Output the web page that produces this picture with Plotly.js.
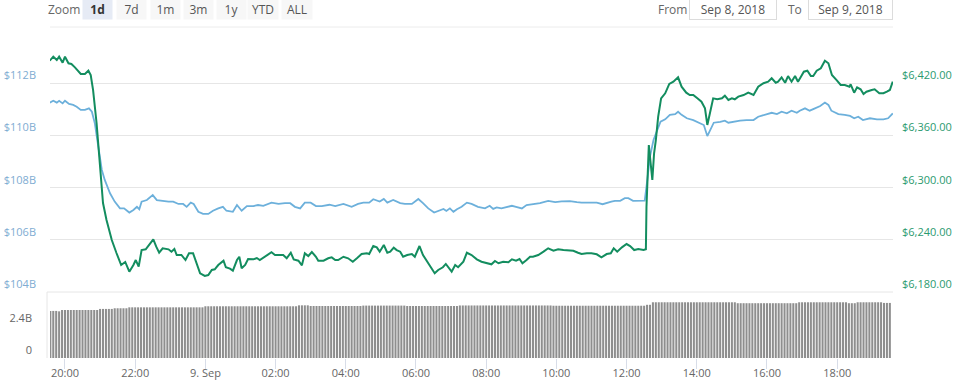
<!DOCTYPE html>
<html>
<head>
<meta charset="utf-8">
<script src="https://cdn.plot.ly/plotly-3.0.1.min.js"></script>
<style>
html,body{margin:0;padding:0;background:#fff;}
#chart{width:965px;height:386px;}
</style>
</head>
<body>
<div id="chart"></div>
<script>
// ---------- DATA ----------
const priceTime = [
'2018-09-08 19:34','2018-09-08 19:40','2018-09-08 19:46','2018-09-08 19:50','2018-09-08 19:56','2018-09-08 20:00','2018-09-08 20:06','2018-09-08 20:11','2018-09-08 20:17','2018-09-08 20:23',
'2018-09-08 20:27','2018-09-08 20:34','2018-09-08 20:40','2018-09-08 20:44','2018-09-08 20:48','2018-09-08 20:54','2018-09-08 21:00','2018-09-08 21:05','2018-09-08 21:11','2018-09-08 21:20',
'2018-09-08 21:28','2018-09-08 21:36','2018-09-08 21:43','2018-09-08 21:50','2018-09-08 21:57','2018-09-08 22:01','2018-09-08 22:06','2018-09-08 22:11','2018-09-08 22:18','2018-09-08 22:24',
'2018-09-08 22:31','2018-09-08 22:36','2018-09-08 22:41','2018-09-08 22:47','2018-09-08 22:57','2018-09-08 23:02','2018-09-08 23:07','2018-09-08 23:11','2018-09-08 23:19','2018-09-08 23:26',
'2018-09-08 23:32','2018-09-08 23:39','2018-09-08 23:45','2018-09-08 23:51','2018-09-08 23:59',
'2018-09-09 00:05','2018-09-09 00:11','2018-09-09 00:16','2018-09-09 00:22','2018-09-09 00:31','2018-09-09 00:35','2018-09-09 00:42','2018-09-09 00:47','2018-09-09 00:54','2018-09-09 00:58',
'2018-09-09 01:02','2018-09-09 01:08','2018-09-09 01:13','2018-09-09 01:22','2018-09-09 01:28','2018-09-09 01:33','2018-09-09 01:40','2018-09-09 01:45','2018-09-09 01:53','2018-09-09 01:59',
'2018-09-09 02:06','2018-09-09 02:13','2018-09-09 02:19','2018-09-09 02:26','2018-09-09 02:31','2018-09-09 02:39','2018-09-09 02:45','2018-09-09 02:50','2018-09-09 02:56','2018-09-09 03:02',
'2018-09-09 03:09','2018-09-09 03:13','2018-09-09 03:22','2018-09-09 03:30','2018-09-09 03:36','2018-09-09 03:42','2018-09-09 03:47','2018-09-09 03:56','2018-09-09 04:04','2018-09-09 04:12',
'2018-09-09 04:19','2018-09-09 04:27','2018-09-09 04:36','2018-09-09 04:40','2018-09-09 04:47','2018-09-09 04:53','2018-09-09 04:58','2018-09-09 05:05','2018-09-09 05:11','2018-09-09 05:16',
'2018-09-09 05:22','2018-09-09 05:27','2018-09-09 05:33','2018-09-09 05:38','2018-09-09 05:45','2018-09-09 05:53','2018-09-09 05:58','2018-09-09 06:06','2018-09-09 06:12','2018-09-09 06:21',
'2018-09-09 06:27','2018-09-09 06:32','2018-09-09 06:38','2018-09-09 06:46','2018-09-09 06:51','2018-09-09 06:57','2018-09-09 07:01','2018-09-09 07:07','2018-09-09 07:12','2018-09-09 07:21',
'2018-09-09 07:27','2018-09-09 07:35','2018-09-09 07:44','2018-09-09 07:52','2018-09-09 08:00','2018-09-09 08:09','2018-09-09 08:15','2018-09-09 08:21','2018-09-09 08:29','2018-09-09 08:38',
'2018-09-09 08:44','2018-09-09 08:51','2018-09-09 08:57','2018-09-09 09:02','2018-09-09 09:09','2018-09-09 09:15','2018-09-09 09:20','2018-09-09 09:29','2018-09-09 09:38','2018-09-09 09:46',
'2018-09-09 09:55','2018-09-09 10:03','2018-09-09 10:12','2018-09-09 10:20','2018-09-09 10:29','2018-09-09 10:37','2018-09-09 10:43','2018-09-09 10:52','2018-09-09 11:00','2018-09-09 11:09',
'2018-09-09 11:17','2018-09-09 11:26','2018-09-09 11:33','2018-09-09 11:38','2018-09-09 11:44','2018-09-09 11:52','2018-09-09 12:00','2018-09-09 12:06','2018-09-09 12:13','2018-09-09 12:20',
'2018-09-09 12:29','2018-09-09 12:33','2018-09-09 12:34','2018-09-09 12:38','2018-09-09 12:41','2018-09-09 12:44','2018-09-09 12:47','2018-09-09 12:50','2018-09-09 12:54','2018-09-09 12:59',
'2018-09-09 13:06','2018-09-09 13:13','2018-09-09 13:20','2018-09-09 13:28','2018-09-09 13:34','2018-09-09 13:42','2018-09-09 13:48','2018-09-09 13:54','2018-09-09 14:01','2018-09-09 14:08',
'2018-09-09 14:14','2018-09-09 14:18','2018-09-09 14:23','2018-09-09 14:28','2018-09-09 14:35','2018-09-09 14:43','2018-09-09 14:48','2018-09-09 14:54','2018-09-09 15:00','2018-09-09 15:05',
'2018-09-09 15:11','2018-09-09 15:20','2018-09-09 15:28','2018-09-09 15:37','2018-09-09 15:45','2018-09-09 15:54','2018-09-09 16:02','2018-09-09 16:08','2018-09-09 16:15','2018-09-09 16:19',
'2018-09-09 16:25','2018-09-09 16:31','2018-09-09 16:36','2018-09-09 16:42','2018-09-09 16:48','2018-09-09 16:53','2018-09-09 16:58','2018-09-09 17:03','2018-09-09 17:09','2018-09-09 17:15',
'2018-09-09 17:19','2018-09-09 17:25','2018-09-09 17:32','2018-09-09 17:39','2018-09-09 17:45','2018-09-09 17:51','2018-09-09 17:59','2018-09-09 18:06','2018-09-09 18:13','2018-09-09 18:21',
'2018-09-09 18:23','2018-09-09 18:29','2018-09-09 18:34','2018-09-09 18:40','2018-09-09 18:45','2018-09-09 18:50','2018-09-09 18:59','2018-09-09 19:04','2018-09-09 19:12','2018-09-09 19:19',
'2018-09-09 19:25','2018-09-09 19:30','2018-09-09 19:35'
];
const priceUSD = [
6445.6,6450.2,6446.4,6450.2,6443.3,6450.2,6442.6,6441.8,6438.0,6434.1,
6430.3,6430.3,6434.1,6429.2,6412.0,6374.1,6323.5,6282.2,6262.7,6239.7,
6224.8,6211.0,6214.5,6203.3,6211.0,6216.7,6209.1,6228.2,6229.0,6234.0,
6240.5,6232.0,6225.1,6230.2,6229.0,6226.3,6229.4,6222.5,6222.5,6216.7,
6224.4,6224.4,6213.0,6201.5,6198.4,
6199.5,6205.3,6206.1,6211.0,6215.9,6208.4,6206.8,6204.5,6216.7,6220.5,
6207.2,6211.0,6217.9,6217.5,6219.0,6216.7,6219.8,6222.5,6225.6,6222.5,
6222.5,6222.5,6218.7,6225.1,6217.5,6215.9,6210.7,6224.4,6221.3,6225.9,
6220.5,6215.9,6215.9,6218.7,6219.8,6216.7,6216.7,6220.5,6218.7,6214.8,
6218.7,6223.6,6224.4,6223.6,6232.8,6231.3,6226.3,6234.0,6225.1,6226.3,
6230.9,6228.2,6226.3,6220.5,6222.5,6223.6,6220.5,6232.8,6222.5,6213.0,
6206.1,6201.5,6205.3,6208.4,6212.2,6206.1,6203.3,6211.0,6208.4,6214.8,
6225.1,6222.5,6217.5,6214.8,6213.3,6211.8,6215.6,6213.0,6214.8,6214.1,
6217.5,6215.9,6217.9,6213.0,6216.7,6220.5,6220.5,6222.5,6226.3,6230.2,
6227.4,6229.0,6228.2,6228.2,6227.4,6225.1,6223.6,6224.4,6224.4,6223.3,
6219.8,6223.6,6224.4,6230.2,6226.3,6231.3,6235.1,6232.8,6228.2,6229.4,
6228.2,6229.0,6278.0,6348.8,6331.6,6308.6,6339.3,6354.5,6381.3,6402.4,
6408.2,6418.9,6421.5,6426.5,6415.8,6408.9,6406.2,6406.2,6402.4,6398.5,
6390.9,6371.8,6387.0,6402.4,6401.3,6402.4,6405.4,6400.5,6402.4,6401.3,
6404.3,6406.2,6408.9,6406.2,6415.8,6419.7,6421.5,6425.4,6420.3,6421.5,
6426.5,6420.3,6428.0,6421.5,6428.0,6421.5,6427.2,6433.0,6434.1,6428.0,
6428.0,6434.1,6436.9,6445.6,6442.6,6429.2,6423.4,6417.7,6417.7,6415.8,
6418.5,6408.9,6415.1,6412.8,6407.4,6410.0,6412.0,6412.8,6408.2,6408.2,
6410.0,6412.0,6421.5
];

const capTime = [
'2018-09-08 19:34','2018-09-08 19:40','2018-09-08 19:46','2018-09-08 19:50','2018-09-08 19:56','2018-09-08 20:00','2018-09-08 20:07','2018-09-08 20:14','2018-09-08 20:20','2018-09-08 20:27',
'2018-09-08 20:34','2018-09-08 20:41','2018-09-08 20:46','2018-09-08 20:51','2018-09-08 20:57','2018-09-08 21:03','2018-09-08 21:08','2018-09-08 21:17','2018-09-08 21:25','2018-09-08 21:34',
'2018-09-08 21:41','2018-09-08 21:50','2018-09-08 21:57','2018-09-08 22:03','2018-09-08 22:07','2018-09-08 22:11','2018-09-08 22:20','2018-09-08 22:30','2018-09-08 22:37','2018-09-08 22:45',
'2018-09-08 22:57','2018-09-08 23:05','2018-09-08 23:14','2018-09-08 23:22','2018-09-08 23:28','2018-09-08 23:35','2018-09-08 23:40','2018-09-08 23:48','2018-09-08 23:56',
'2018-09-09 00:05','2018-09-09 00:13','2018-09-09 00:22','2018-09-09 00:30','2018-09-09 00:36','2018-09-09 00:47','2018-09-09 00:54','2018-09-09 01:02','2018-09-09 01:11','2018-09-09 01:22',
'2018-09-09 01:30','2018-09-09 01:39','2018-09-09 01:53','2018-09-09 02:05','2018-09-09 02:16','2018-09-09 02:25','2018-09-09 02:33','2018-09-09 02:42','2018-09-09 02:50','2018-09-09 03:00',
'2018-09-09 03:09','2018-09-09 03:19','2018-09-09 03:32','2018-09-09 03:42','2018-09-09 03:56','2018-09-09 04:10','2018-09-09 04:21','2018-09-09 04:30','2018-09-09 04:40','2018-09-09 04:47',
'2018-09-09 04:58','2018-09-09 05:05','2018-09-09 05:11','2018-09-09 05:21','2018-09-09 05:33','2018-09-09 05:41','2018-09-09 05:53','2018-09-09 06:04','2018-09-09 06:12','2018-09-09 06:21',
'2018-09-09 06:31','2018-09-09 06:38','2018-09-09 06:47','2018-09-09 06:52','2018-09-09 06:58','2018-09-09 07:04','2018-09-09 07:10','2018-09-09 07:18','2018-09-09 07:27','2018-09-09 07:35',
'2018-09-09 07:46','2018-09-09 07:58','2018-09-09 08:06','2018-09-09 08:12','2018-09-09 08:18','2018-09-09 08:26','2018-09-09 08:35','2018-09-09 08:44','2018-09-09 08:51','2018-09-09 09:01',
'2018-09-09 09:09','2018-09-09 09:20','2018-09-09 09:32','2018-09-09 09:46','2018-09-09 09:58','2018-09-09 10:09','2018-09-09 10:23','2018-09-09 10:35','2018-09-09 10:43','2018-09-09 10:57',
'2018-09-09 11:09','2018-09-09 11:19','2018-09-09 11:26','2018-09-09 11:34','2018-09-09 11:40','2018-09-09 11:49','2018-09-09 11:57','2018-09-09 12:03','2018-09-09 12:11','2018-09-09 12:20',
'2018-09-09 12:31','2018-09-09 12:34','2018-09-09 12:40','2018-09-09 12:46','2018-09-09 12:51','2018-09-09 12:58','2018-09-09 13:06','2018-09-09 13:14','2018-09-09 13:23','2018-09-09 13:28',
'2018-09-09 13:34','2018-09-09 13:43','2018-09-09 13:54','2018-09-09 14:05','2018-09-09 14:12','2018-09-09 14:18','2018-09-09 14:23','2018-09-09 14:29','2018-09-09 14:40','2018-09-09 14:48',
'2018-09-09 14:54','2018-09-09 15:02','2018-09-09 15:14','2018-09-09 15:25','2018-09-09 15:37','2018-09-09 15:45','2018-09-09 15:57','2018-09-09 16:08','2018-09-09 16:17','2018-09-09 16:25',
'2018-09-09 16:34','2018-09-09 16:42','2018-09-09 16:51','2018-09-09 16:56','2018-09-09 17:05','2018-09-09 17:13','2018-09-09 17:22','2018-09-09 17:31','2018-09-09 17:39','2018-09-09 17:45',
'2018-09-09 17:50','2018-09-09 18:02','2018-09-09 18:13','2018-09-09 18:22','2018-09-09 18:29','2018-09-09 18:36','2018-09-09 18:44','2018-09-09 18:56','2018-09-09 19:08','2018-09-09 19:19',
'2018-09-09 19:27','2018-09-09 19:35'
];
const marketCapB = [
111.25,111.32,111.25,111.32,111.22,111.32,111.20,111.16,111.09,110.97,
110.97,111.03,110.90,110.46,109.56,108.67,108.29,107.78,107.46,107.20,
107.20,107.04,107.14,107.26,107.17,107.46,107.52,107.71,107.52,107.49,
107.46,107.46,107.37,107.37,107.26,107.42,107.37,107.07,106.99,
106.99,107.11,107.20,107.26,107.11,107.07,107.33,107.11,107.29,107.29,
107.33,107.30,107.42,107.37,107.40,107.40,107.26,107.20,107.42,107.42,
107.29,107.29,107.34,107.29,107.37,107.26,107.37,107.42,107.42,107.55,
107.46,107.56,107.42,107.52,107.40,107.37,107.37,107.56,107.40,107.20,
107.04,107.11,107.18,107.10,107.20,107.07,107.17,107.26,107.42,107.37,
107.26,107.20,107.30,107.18,107.24,107.20,107.24,107.30,107.26,107.20,
107.33,107.36,107.40,107.49,107.44,107.47,107.48,107.44,107.42,107.42,
107.42,107.36,107.42,107.46,107.49,107.49,107.59,107.59,107.49,107.49,
107.50,108.03,109.18,109.82,110.14,110.52,110.61,110.78,110.81,110.90,
110.78,110.65,110.58,110.48,110.39,109.97,110.23,110.48,110.51,110.56,
110.48,110.52,110.56,110.58,110.58,110.71,110.78,110.86,110.81,110.90,
110.84,110.94,110.86,110.94,111.03,110.94,111.03,111.12,111.25,111.16,
110.94,110.81,110.78,110.74,110.65,110.71,110.58,110.65,110.61,110.61,
110.65,110.84
];

// 24h volume (billions USD), one bar every 5 minutes starting 2018-09-08 19:35
const volumeStart = '2018-09-08 19:35';
const volumeB = [
3.53,3.53,3.53,3.50,3.60,3.60,3.60,3.60,3.60,3.60,3.60,3.60,3.60,3.60,3.60,3.60,3.60,
3.68,3.68,3.68,3.68,3.68,3.73,3.73,3.73,3.73,3.73,
3.80,3.80,3.80,3.80,3.80,3.80,3.80,3.80,3.80,3.80,3.80,3.80,3.80,
3.80,3.80,3.80,3.80,3.80,3.80,3.80,3.80,3.80,3.80,3.80,3.80,3.80,
3.88,3.88,3.88,3.88,3.88,3.88,3.88,3.88,3.88,3.88,3.88,3.88,3.88,3.88,3.88,3.88,
3.88,3.88,3.88,3.88,3.88,3.88,3.88,3.88,3.88,3.88,3.88,3.88,3.88,3.88,3.88,3.88,
3.95,3.95,3.95,3.95,
3.90,3.90,3.90,3.90,3.90,3.90,3.90,3.90,3.90,3.90,3.90,3.90,3.90,3.90,3.90,3.90,3.90,3.90,
3.93,3.93,3.93,3.93,3.93,3.93,3.93,3.93,3.93,3.93,3.93,3.93,3.93,3.93,3.93,
3.90,3.90,3.90,3.90,3.90,3.90,3.90,3.90,3.90,3.90,3.90,3.90,3.90,3.90,3.90,3.90,3.90,3.90,
3.94,3.94,3.94,3.94,3.94,3.94,3.94,3.94,3.94,3.94,3.94,3.94,3.94,3.94,3.94,3.94,
3.94,3.94,3.94,3.94,3.94,3.94,3.94,3.94,3.94,3.94,3.94,3.94,3.94,3.94,3.94,3.94,
3.92,3.92,3.92,3.92,3.92,3.92,3.92,3.92,3.92,3.92,3.92,3.92,3.92,3.92,3.92,3.92,
3.92,3.92,3.92,3.92,3.92,3.92,3.92,3.92,3.92,3.92,3.92,3.92,3.92,3.92,3.92,3.92,
3.99,3.99,
4.18,4.18,4.18,4.18,4.18,4.18,4.18,4.18,4.18,4.18,4.18,4.18,4.18,4.18,4.18,
4.18,4.18,4.18,4.18,4.18,4.18,4.18,4.18,4.18,4.18,4.18,4.18,4.18,4.18,
4.11,4.11,4.11,4.11,4.11,4.11,4.11,4.11,4.11,4.11,4.11,4.11,4.11,4.11,4.11,4.11,4.11,4.11,4.11,4.11,4.11,
4.18,4.18,4.18,4.18,4.18,4.18,4.18,4.18,4.18,4.18,4.18,4.18,4.18,4.18,4.18,4.18,4.18,
4.11,4.11,4.11,
4.18,4.18,4.18,4.18,4.18,4.18,4.18,4.18,4.18,
4.13,4.13,4.13
];

const xTickVals = ['2018-09-08 20:00','2018-09-08 22:00','2018-09-09 00:00','2018-09-09 02:00','2018-09-09 04:00','2018-09-09 06:00',
  '2018-09-09 08:00','2018-09-09 10:00','2018-09-09 12:00','2018-09-09 14:00','2018-09-09 16:00','2018-09-09 18:00'];
const xTickText = ['20:00','22:00','9. Sep','02:00','04:00','06:00','08:00','10:00','12:00','14:00','16:00','18:00'];
const capTickVals = [104,106,108,110,112];
const capTickText = ['$104B','$106B','$108B','$110B','$112B'];
const priceTickVals = [6180,6240,6300,6360,6420];
const volTickVals = [0,2.4];
const volTickText = ['0','2.4B'];
const zoomButtons = ['1d','7d','1m','3m','1y','YTD','ALL'];
const fromDate = 'Sep 8, 2018';
const toDate = 'Sep 9, 2018';

// ---------- LAYOUT HELPERS (pixel -> paper, decoration only) ----------
const W = 965, H = 386, ML = 50, MR = 72, MT = 27, MB = 28;
const PW = W - ML - MR, PH = H - MT - MB;
const px = x => (x - ML) / PW;
const py = y => (H - MB - y) / PH;

const FONT = '"Open Sans", "DejaVu Sans", sans-serif';
const GREEN = '#138d5f';
const BLUE = '#6cb0db';

const traces = [
  { type:'bar', x0: volumeStart, dx: 300000, y: volumeB, xaxis:'x', yaxis:'y3',
    marker:{color:'#8e8e8e', line:{width:0}}, hoverinfo:'skip', showlegend:false },
  { type:'scatter', mode:'lines', x: capTime, y: marketCapB, xaxis:'x', yaxis:'y',
    line:{color: BLUE, width:1.8}, showlegend:false },
  { type:'scatter', mode:'lines', x: priceTime, y: priceUSD, xaxis:'x', yaxis:'y2',
    line:{color: GREEN, width:2}, showlegend:false }
];

const annotations = [];
annotations.push({xref:'paper', yref:'paper', x: px(64), y: py(9.5), text:'Zoom', showarrow:false,
  font:{family:FONT, size:12, color:'#666'}, xanchor:'center', yanchor:'middle'});
const btnCenters = [97.5, 131, 165, 198, 231, 263, 297];
zoomButtons.forEach((b, i) => {
  const active = i === 0;
  annotations.push({xref:'paper', yref:'paper', x: px(btnCenters[i]), y: py(9.5),
    text: active ? '<b>' + b + '</b>' : b, showarrow:false,
    font:{family:FONT, size:12, color: active ? '#333' : '#555'},
    bgcolor: active ? '#e6ebf5' : '#f7f7f7', width: b === 'YTD' || b === 'ALL' ? 26 : 25, height: 15,
    borderpad: 2, xanchor:'center', yanchor:'middle'});
});
annotations.push({xref:'paper', yref:'paper', x: px(672.5), y: py(9.5), text:'From', showarrow:false,
  font:{family:FONT, size:12, color:'#666'}, xanchor:'center', yanchor:'middle'});
annotations.push({xref:'paper', yref:'paper', x: px(733), y: py(9.5), text: fromDate, showarrow:false,
  font:{family:FONT, size:12, color:'#555'}, bgcolor:'#fff', bordercolor:'#dcdcdc', borderwidth:1,
  width: 82, height: 15, borderpad: 2, xanchor:'center', yanchor:'middle'});
annotations.push({xref:'paper', yref:'paper', x: px(795), y: py(9.5), text:'To', showarrow:false,
  font:{family:FONT, size:12, color:'#666'}, xanchor:'center', yanchor:'middle'});
annotations.push({xref:'paper', yref:'paper', x: px(850.5), y: py(9.5), text: toDate, showarrow:false,
  font:{family:FONT, size:12, color:'#555'}, bgcolor:'#fff', bordercolor:'#dcdcdc', borderwidth:1,
  width: 79, height: 15, borderpad: 2, xanchor:'center', yanchor:'middle'});

const shapes = [
  {type:'line', xref:'paper', yref:'paper', x0: px(50), x1: px(893), y0: py(27), y1: py(27), line:{color:'#ececec', width:1}},
  {type:'line', xref:'paper', yref:'paper', x0: px(47), x1: px(893), y0: py(292), y1: py(292), line:{color:'#e6e6e6', width:1}},
  {type:'line', xref:'paper', yref:'paper', x0: px(47), x1: px(47), y0: py(292), y1: py(358), line:{color:'#e6e6e6', width:1}}
];

const mainDomain = [py(292), 1];

const layout = {
  width: W, height: H,
  margin:{l:ML, r:MR, t:MT, b:MB, pad:0},
  paper_bgcolor:'#fff', plot_bgcolor:'rgba(0,0,0,0)',
  font:{family:FONT, size:11, color:'#666'},
  showlegend:false, bargap:0.3,
  xaxis:{type:'date', range:['2018-09-08 19:34:24','2018-09-09 19:35:24'], anchor:'y3',
    tickvals: xTickVals, ticktext: xTickText, ticks:'outside', ticklen:10, tickcolor:'#d8dde8', tickwidth:1,
    ticklabelstandoff: -5,
    showgrid:false, zeroline:false, showline:false, tickfont:{size:11, color:'#666'}, fixedrange:true},
  yaxis:{domain: mainDomain, range:[104, 104 + (292-27)*(2/52.25)], side:'left', anchor:'x',
    tickvals: capTickVals, ticktext: capTickText, ticklabelposition:'outside top',
    showgrid:true, gridcolor:'#e6e6e6', gridwidth:1, zeroline:false, showline:false, ticks:'',
    tickfont:{size:11, color:'#80acd2'}, ticklabelstandoff: 13},
  yaxis2:{domain: mainDomain, range:[6180, 6180 + (292-27)*(60/52.25)], side:'right', overlaying:'y', anchor:'x',
    tickvals: priceTickVals, tickformat:'$,.2f', ticklabelposition:'outside top',
    showgrid:false, zeroline:false, showline:false, ticks:'',
    tickfont:{size:11, color:'#2b9a6f'}, ticklabelstandoff: 8},
  yaxis3:{domain:[0, py(294)], range:[0, 4.8], side:'left', anchor:'x',
    tickvals: volTickVals, ticktext: volTickText, ticklabelposition:'outside top',
    showgrid:false, zeroline:false, showline:false, ticks:'',
    tickfont:{size:11, color:'#666'}, ticklabelstandoff: 17},
  annotations, shapes
};

Plotly.newPlot('chart', traces, layout, {displayModeBar:false, staticPlot:true});
</script>
</body>
</html>
